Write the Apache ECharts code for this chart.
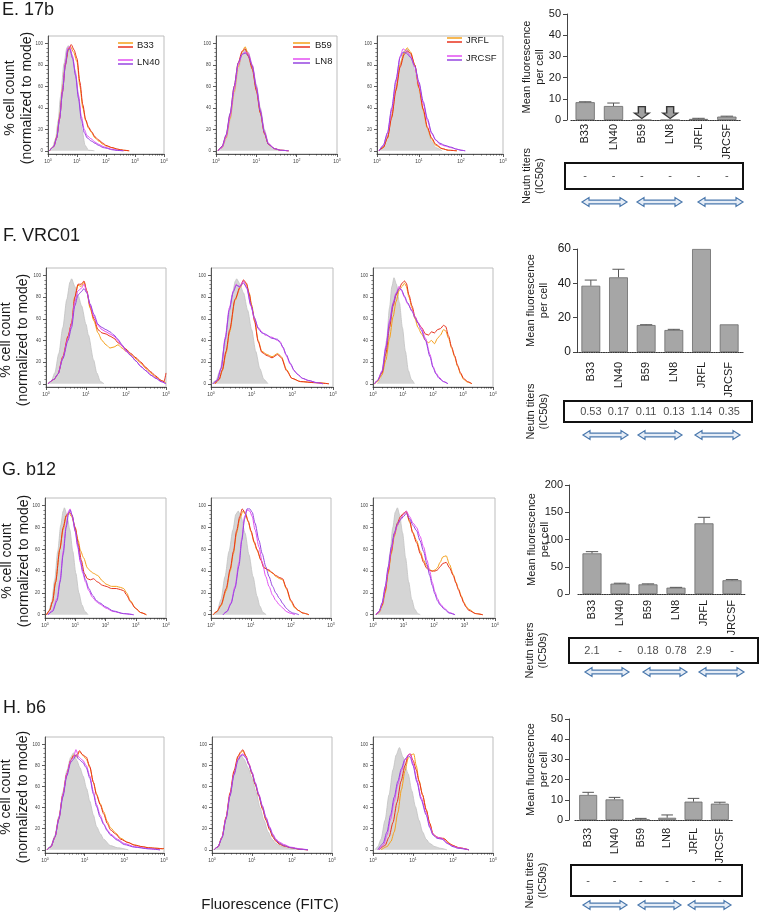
<!DOCTYPE html>
<html><head><meta charset="utf-8">
<script src="https://cdn.jsdelivr.net/npm/echarts@6/dist/echarts.min.js"></script>
<style>html,body{margin:0;padding:0;background:#fff}#c{width:760px;height:914px}</style>
</head><body><div id="c"></div>
<script>
// ---------------- DATA ----------------
const cats = ['B33','LN40','B59','LN8','JRFL','JRCSF'];
const panelTitles = ['E. 17b','F. VRC01','G. b12','H. b6'];
const legendNames = [['B33','LN40'],['B59','LN8'],['JRFL','JRCSF']];
const histYTicks = [0,20,40,60,80,100];

// Mean fluorescence per cell (bar) and upper error
const mfi_17b = [8.4, 6.6, 0, 0, 0.5, 1.6];
const err_17b = [0.2, 1.4, 0, 0, 0.3, 0.2];
const arrowCats_17b = ['B59','LN8'];
const arrowVal_17b = 3.5;
const mfi_VRC01 = [38.6, 43.5, 15.7, 12.8, 60, 16.1];
const err_VRC01 = [3.3, 4.7, 0.2, 0.4, 0, 0];
const mfi_b12 = [74.6, 19, 17.7, 11.6, 129.7, 25.2];
const err_b12 = [3.1, 0.8, 0.9, 0.6, 11, 1.3];
const mfi_b6 = [12.4, 10.2, 0.2, 1.1, 9.1, 8.1];
const err_b6 = [1.3, 1.0, 0.6, 1.4, 1.6, 0.7];
const barTicks_17b = [0,10,20,30,40,50];
const barTicks_VRC01 = [0,20,40,60];
const barTicks_b12 = [0,50,100,150,200];
const barTicks_b6 = [0,10,20,30,40,50];

// Neutralization titers (IC50s)
const neut_17b = ['-','-','-','-','-','-'];
const neut_VRC01 = ['0.53','0.17','0.11','0.13','1.14','0.35'];
const neut_b12 = ['2.1','-','0.18','0.78','2.9','-'];
const neut_b6 = ['-','-','-','-','-','-'];

// Histograms: [log10(fluorescence), % of max]
const E1_ctrl = [[0.05,0],[0.15,3],[0.26,11],[0.35,28],[0.43,50],[0.55,81],[0.65,96],[0.7,98],[0.8,90],[0.94,75],[1.06,50],[1.17,20],[1.28,5],[1.4,0.5],[1.6,0]];
const E1_B33a = [[0.05,0],[0.2,4],[0.3,13],[0.4,32],[0.5,58],[0.6,82],[0.7,95],[0.78,97],[0.88,92],[1.0,83],[1.1,60],[1.2,40],[1.3,28],[1.4,21],[1.5,17],[1.62,12],[1.75,9],[1.9,6],[2.0,4.5],[2.2,3],[2.4,1.5],[2.6,0.5],[2.8,0]];
const E1_B33b = [[0.05,0],[0.2,4],[0.3,12],[0.4,30],[0.5,55],[0.6,80],[0.7,94],[0.8,99],[0.9,94],[1.0,86],[1.1,64],[1.2,43],[1.3,29],[1.4,22],[1.5,18],[1.62,13],[1.75,10],[1.9,7],[2.0,5],[2.2,3],[2.4,1.5],[2.6,0.5],[2.8,0]];
const E1_LN40a = [[0.05,0],[0.2,4],[0.3,12],[0.4,30],[0.5,56],[0.6,82],[0.68,96],[0.75,97],[0.85,88],[0.95,72],[1.05,52],[1.15,32],[1.25,20],[1.35,14],[1.5,11],[1.62,8],[1.75,6],[1.9,4],[2.0,3],[2.2,1.5],[2.4,0.5],[2.6,0]];
const E1_LN40b = [[0.05,0],[0.2,4],[0.3,12],[0.4,30],[0.5,55],[0.6,80],[0.68,94],[0.75,95],[0.85,86],[0.95,70],[1.05,49],[1.15,29],[1.25,17],[1.35,12],[1.5,9],[1.62,7],[1.75,5],[1.9,3],[2.0,2.5],[2.2,1],[2.4,0.3],[2.6,0]];

const E2_ctrl = [[0.05,0],[0.15,3],[0.25,10],[0.35,28],[0.45,52],[0.55,75],[0.65,90],[0.72,95],[0.8,92],[0.9,80],[1.0,62],[1.1,40],[1.2,20],[1.3,7],[1.4,2],[1.55,0]];
const E2_B59a = [[0.05,0],[0.15,3],[0.25,12],[0.35,30],[0.45,55],[0.55,78],[0.65,92],[0.72,97],[0.8,90],[0.9,78],[1.0,58],[1.1,36],[1.2,17],[1.3,6],[1.45,2],[1.6,0.5],[1.8,0]];
const E2_B59b = [[0.05,0],[0.15,4],[0.25,14],[0.35,34],[0.45,60],[0.55,82],[0.65,93],[0.72,95],[0.8,88],[0.9,76],[1.0,56],[1.1,35],[1.2,16],[1.3,6],[1.45,2],[1.6,0.5],[1.8,0]];
const E2_LN8a = [[0.05,0],[0.15,3],[0.25,13],[0.35,32],[0.45,57],[0.55,80],[0.65,90],[0.72,92],[0.8,91],[0.9,80],[1.0,60],[1.1,38],[1.2,18],[1.3,7],[1.45,2],[1.6,0.5],[1.8,0]];
const E2_LN8b = [[0.05,0],[0.15,4],[0.25,15],[0.35,35],[0.45,60],[0.55,82],[0.65,90],[0.72,91],[0.8,89],[0.9,79],[1.0,59],[1.1,37],[1.2,17],[1.3,6],[1.45,2],[1.6,0.5],[1.8,0]];

const E3_ctrl = [[0.05,0],[0.15,4],[0.25,14],[0.35,35],[0.45,60],[0.55,82],[0.65,93],[0.72,95],[0.8,90],[0.9,75],[1.0,55],[1.1,36],[1.2,20],[1.3,9],[1.4,3],[1.55,0]];
const E3_JRFLa = [[0.05,0],[0.15,3],[0.25,12],[0.35,32],[0.45,58],[0.55,80],[0.65,92],[0.72,96],[0.8,92],[0.9,80],[1.0,58],[1.1,38],[1.2,21],[1.3,11],[1.4,5],[1.55,2],[1.7,0.5],[1.9,0]];
const E3_JRFLb = [[0.05,0],[0.15,3],[0.25,12],[0.35,31],[0.45,56],[0.55,78],[0.65,90],[0.72,93],[0.8,91],[0.9,80],[1.0,59],[1.1,39],[1.2,22],[1.3,12],[1.4,6],[1.55,2],[1.7,0.5],[1.9,0]];
const E3_JRCSFa = [[0.05,0],[0.15,5],[0.25,16],[0.35,38],[0.45,64],[0.55,88],[0.62,95],[0.7,93],[0.8,88],[0.9,78],[1.0,62],[1.1,44],[1.2,28],[1.3,16],[1.4,10],[1.5,6],[1.62,4.5],[1.75,3],[1.9,1.5],[2.0,0.5],[2.1,0]];
const E3_JRCSFb = [[0.05,0],[0.15,5],[0.25,17],[0.35,40],[0.45,66],[0.55,87],[0.62,92],[0.7,91],[0.8,87],[0.9,79],[1.0,64],[1.1,46],[1.2,30],[1.3,17],[1.4,10],[1.5,7],[1.62,5],[1.75,3.5],[1.9,1.5],[2.0,0.5],[2.1,0]];

const F1_ctrl = [[0.05,0],[0.13,2],[0.22,10],[0.32,28],[0.42,52],[0.52,78],[0.6,94],[0.64,97],[0.72,90],[0.8,82],[0.89,72],[1.0,55],[1.06,45],[1.19,22],[1.27,10],[1.36,2],[1.45,0]];
const F1_B33a = [[0.05,0],[0.2,4],[0.3,9],[0.42,24],[0.55,43],[0.64,56],[0.72,80],[0.8,91],[0.88,90],[0.95,94],[1.02,85],[1.1,70],[1.2,58],[1.3,47],[1.4,40],[1.5,36],[1.6,33],[1.7,34],[1.8,36],[1.9,33],[2.0,30],[2.12,27],[2.25,23],[2.37,19],[2.5,14],[2.62,10],[2.75,6],[2.88,3],[3.0,1]];
const F1_B33b = [[0.05,0],[0.2,4],[0.3,9],[0.42,25],[0.55,44],[0.64,56],[0.72,80],[0.8,92],[0.88,92],[0.95,95],[1.02,86],[1.1,72],[1.2,60],[1.3,50],[1.4,47],[1.5,46],[1.6,44],[1.7,42],[1.8,38],[1.9,35],[2.0,32],[2.12,28],[2.25,24],[2.37,20],[2.5,15],[2.62,11],[2.75,7],[2.88,3],[2.95,2],[3.0,10]];
const F1_LN40a = [[0.05,0],[0.2,4],[0.3,9],[0.42,24],[0.55,42],[0.64,55],[0.72,76],[0.8,86],[0.88,88],[0.95,92],[1.02,85],[1.1,73],[1.2,62],[1.3,54],[1.4,50],[1.5,48],[1.6,46],[1.7,44],[1.8,40],[1.9,35],[2.0,30],[2.12,26],[2.25,21],[2.37,16],[2.5,12],[2.62,8],[2.75,5],[2.88,2],[3.0,0]];
const F1_LN40b = [[0.05,0],[0.2,4],[0.3,9],[0.42,23],[0.55,40],[0.64,52],[0.72,72],[0.8,82],[0.88,85],[0.95,88],[1.02,84],[1.1,74],[1.2,64],[1.3,55],[1.4,52],[1.5,50],[1.6,48],[1.7,45],[1.8,41],[1.9,36],[2.0,31],[2.12,26],[2.25,21],[2.37,16],[2.5,12],[2.62,8],[2.75,5],[2.88,2],[3.0,0]];

const F2_ctrl = [[0.02,0],[0.12,3],[0.22,12],[0.32,32],[0.42,58],[0.52,82],[0.6,95],[0.63,97],[0.7,93],[0.8,84],[0.9,68],[1.0,50],[1.1,30],[1.2,14],[1.3,4],[1.4,0]];
const F2_B59a = [[0.1,0],[0.2,4],[0.28,12],[0.37,28],[0.46,48],[0.59,77],[0.72,89],[0.8,95],[0.87,92],[0.94,84],[1.0,73],[1.07,60],[1.16,40],[1.25,30],[1.38,27],[1.5,25],[1.64,28],[1.73,25],[1.86,13],[1.99,5],[2.2,2],[2.56,1],[2.9,0]];
const F2_B59b = [[0.1,0],[0.2,4],[0.28,13],[0.37,30],[0.46,50],[0.59,78],[0.72,90],[0.8,96],[0.87,93],[0.94,83],[1.0,71],[1.07,58],[1.16,39],[1.25,29],[1.38,26],[1.5,24],[1.64,27],[1.73,24],[1.86,12],[1.99,5],[2.2,2],[2.56,1],[2.9,0]];
const F2_LN8a = [[0.05,0],[0.15,3],[0.25,15],[0.35,43],[0.45,70],[0.55,86],[0.62,92],[0.7,89],[0.8,95],[0.88,88],[0.98,72],[1.07,60],[1.16,52],[1.25,48],[1.33,45],[1.5,43],[1.64,40],[1.7,39],[1.77,33],[1.85,26],[1.95,18],[2.05,12],[2.12,9],[2.25,5],[2.4,3],[2.6,1],[2.75,0]];
const F2_LN8b = [[0.05,0],[0.15,3],[0.25,14],[0.35,41],[0.45,68],[0.55,85],[0.62,91],[0.7,90],[0.8,93],[0.88,89],[0.98,73],[1.07,61],[1.16,51],[1.25,47],[1.33,46],[1.5,42],[1.64,41],[1.7,38],[1.77,34],[1.85,27],[1.95,19],[2.05,12],[2.12,9],[2.25,5],[2.4,3],[2.6,1],[2.75,0]];

const F3_ctrl = [[0.15,0],[0.25,4],[0.35,15],[0.45,40],[0.55,70],[0.63,90],[0.7,98],[0.78,92],[0.88,75],[0.98,52],[1.08,30],[1.18,12],[1.28,4],[1.38,0]];
const F3_JRFLa = [[0.05,0],[0.15,2],[0.3,8],[0.43,22],[0.55,42],[0.67,62],[0.77,76],[0.87,86],[0.97,90],[1.05,93],[1.11,90],[1.2,80],[1.3,70],[1.4,60],[1.5,52],[1.62,46],[1.75,40],[1.85,38],[1.95,40],[2.05,37],[2.15,42],[2.25,45],[2.35,50],[2.42,49],[2.52,42],[2.62,33],[2.72,25],[2.82,16],[2.92,9],[3.02,4],[3.15,1.5],[3.3,0]];
const F3_JRFLb = [[0.05,0],[0.15,3],[0.3,10],[0.43,28],[0.55,52],[0.67,72],[0.77,82],[0.87,88],[0.97,93],[1.05,95],[1.11,93],[1.2,82],[1.3,72],[1.4,62],[1.5,56],[1.62,52],[1.75,46],[1.85,45],[1.95,48],[2.05,47],[2.15,50],[2.25,51],[2.35,54],[2.42,53],[2.52,44],[2.62,34],[2.72,26],[2.82,17],[2.92,10],[3.02,5],[3.15,2],[3.3,0]];
const F3_JRCSFa = [[0.05,0],[0.15,3],[0.3,12],[0.43,35],[0.55,58],[0.67,75],[0.77,84],[0.87,90],[0.95,86],[1.05,80],[1.15,74],[1.3,68],[1.4,62],[1.5,57],[1.6,52],[1.75,42],[1.9,27],[2.0,16],[2.1,10],[2.2,6],[2.35,2],[2.5,0]];
const F3_JRCSFb = [[0.05,0],[0.15,3],[0.3,11],[0.43,33],[0.55,56],[0.67,74],[0.77,83],[0.87,88],[0.95,87],[1.05,81],[1.15,75],[1.3,67],[1.4,61],[1.5,56],[1.6,50],[1.75,40],[1.9,25],[2.0,15],[2.1,9],[2.2,5],[2.35,2],[2.5,0]];

const G1_ctrl = [[0.05,0],[0.12,3],[0.22,12],[0.32,32],[0.42,58],[0.52,82],[0.6,95],[0.64,98],[0.72,92],[0.82,78],[0.92,58],[1.02,38],[1.12,20],[1.22,9],[1.32,3],[1.42,0]];
const G1_B33a = [[0.05,0],[0.15,4],[0.25,12],[0.35,30],[0.49,60],[0.6,78],[0.7,90],[0.8,93],[0.88,90],[1.0,79],[1.1,68],[1.17,59],[1.28,52],[1.4,43],[1.5,40],[1.6,38],[1.74,36],[1.9,31],[2.02,28],[2.2,26],[2.36,26],[2.5,25],[2.6,24],[2.7,20],[2.82,13],[2.99,6],[3.16,2],[3.35,0]];
const G1_B33b = [[0.05,0],[0.15,4],[0.25,12],[0.35,30],[0.49,60],[0.6,80],[0.7,91],[0.8,94],[0.88,92],[1.0,80],[1.1,65],[1.2,50],[1.3,38],[1.4,33],[1.5,32],[1.6,33],[1.74,30],[1.9,27],[2.02,26],[2.2,24],[2.36,24],[2.5,23],[2.6,22],[2.7,18],[2.82,12],[2.99,6],[3.16,2],[3.35,0]];
const G1_LN40a = [[0.1,0],[0.25,4],[0.4,15],[0.5,32],[0.6,58],[0.7,82],[0.78,95],[0.83,97],[0.9,90],[1.0,76],[1.08,62],[1.17,48],[1.25,38],[1.34,30],[1.45,22],[1.57,16],[1.7,12],[1.8,10],[2.02,6],[2.25,3],[2.6,1],[2.93,0]];
const G1_LN40b = [[0.1,0],[0.25,3],[0.4,13],[0.5,30],[0.6,55],[0.7,80],[0.78,93],[0.83,96],[0.9,91],[1.0,77],[1.08,64],[1.17,50],[1.25,40],[1.34,32],[1.45,24],[1.57,18],[1.7,13],[1.8,11],[2.02,7],[2.25,3.5],[2.6,1],[2.93,0]];

const G2_ctrl = [[0.08,0],[0.15,3],[0.25,14],[0.35,35],[0.45,58],[0.55,78],[0.62,92],[0.68,95],[0.75,90],[0.85,75],[0.95,55],[1.05,35],[1.15,17],[1.22,8],[1.3,2],[1.38,0]];
const G2_B59a = [[0.05,0],[0.15,3],[0.25,8],[0.38,22],[0.48,40],[0.56,56],[0.64,75],[0.72,88],[0.8,95],[0.86,92],[0.93,85],[1.0,76],[1.08,66],[1.15,59],[1.25,50],[1.32,44],[1.45,40],[1.55,38],[1.62,35],[1.72,33],[1.79,32],[1.88,24],[2.0,12],[2.1,6],[2.18,4],[2.3,1.5],[2.45,0]];
const G2_B59b = [[0.05,0],[0.15,3],[0.25,9],[0.38,24],[0.48,42],[0.56,58],[0.64,77],[0.72,90],[0.78,97],[0.86,93],[0.93,86],[1.0,77],[1.08,67],[1.15,60],[1.25,50],[1.32,43],[1.45,41],[1.55,38],[1.62,36],[1.72,34],[1.79,33],[1.88,25],[2.0,13],[2.1,7],[2.18,4],[2.3,1.5],[2.45,0]];
const G2_LN8a = [[0.3,0],[0.4,3],[0.5,11],[0.6,26],[0.7,48],[0.77,70],[0.84,90],[0.9,96],[0.97,95],[1.03,90],[1.1,78],[1.2,62],[1.28,48],[1.37,35],[1.45,26],[1.54,18],[1.62,13],[1.71,9],[1.8,6],[1.88,3],[1.97,1.5],[2.1,0]];
const G2_LN8b = [[0.3,0],[0.4,3],[0.5,10],[0.6,24],[0.7,45],[0.77,68],[0.84,88],[0.9,97],[0.97,97],[1.03,94],[1.1,84],[1.2,68],[1.28,56],[1.37,44],[1.45,35],[1.54,26],[1.62,20],[1.71,15],[1.8,10],[1.88,6],[1.97,3],[2.05,1.5],[2.2,0]];

const G3_ctrl = [[0.15,0],[0.25,3],[0.35,12],[0.45,30],[0.55,55],[0.65,80],[0.73,94],[0.8,98],[0.87,92],[0.97,75],[1.07,52],[1.17,30],[1.27,14],[1.37,5],[1.47,1],[1.55,0]];
const G3_JRFLa = [[0.1,0],[0.2,2],[0.3,8],[0.4,20],[0.5,38],[0.6,56],[0.7,72],[0.8,82],[0.9,88],[1.0,92],[1.09,94],[1.2,85],[1.3,76],[1.43,68],[1.55,58],[1.66,50],[1.75,45],[1.83,42],[1.94,40],[2.03,41],[2.11,43],[2.2,48],[2.29,53],[2.4,54],[2.51,46],[2.63,37],[2.72,30],[2.8,24],[2.9,17],[2.97,12],[3.05,8],[3.14,5],[3.37,1],[3.6,0]];
const G3_JRFLb = [[0.1,0],[0.2,3],[0.3,9],[0.4,22],[0.5,40],[0.6,58],[0.7,74],[0.8,84],[0.9,90],[1.0,93],[1.09,95],[1.2,86],[1.3,75],[1.43,66],[1.55,56],[1.66,48],[1.75,43],[1.83,41],[1.94,40],[2.03,40],[2.11,41],[2.2,44],[2.29,47],[2.4,48],[2.51,43],[2.63,36],[2.72,29],[2.8,23],[2.9,16],[2.97,11],[3.05,7],[3.14,4],[3.37,1],[3.6,0]];
const G3_JRCSFa = [[0.1,0],[0.2,3],[0.3,10],[0.4,24],[0.5,42],[0.6,60],[0.7,74],[0.8,82],[0.9,88],[1.0,92],[1.09,95],[1.2,90],[1.31,84],[1.43,80],[1.54,72],[1.66,62],[1.77,50],[1.86,40],[1.94,30],[2.03,21],[2.11,15],[2.2,10],[2.34,6],[2.5,2],[2.69,0]];
const G3_JRCSFb = [[0.1,0],[0.2,3],[0.3,11],[0.4,26],[0.5,44],[0.6,62],[0.7,75],[0.8,83],[0.9,87],[1.0,90],[1.09,93],[1.2,88],[1.31,82],[1.43,77],[1.54,68],[1.66,58],[1.77,46],[1.86,36],[1.94,27],[2.03,19],[2.11,13],[2.2,9],[2.34,5],[2.5,1.5],[2.69,0]];

const H1_ctrl = [[0.05,0],[0.15,4],[0.25,14],[0.35,32],[0.45,55],[0.55,75],[0.65,88],[0.72,92],[0.8,85],[0.88,78],[0.96,70],[1.05,58],[1.13,46],[1.22,33],[1.3,22],[1.4,15],[1.48,10],[1.65,4],[1.83,2],[2.1,0]];
const H1_B33a = [[0.05,0],[0.15,3],[0.25,12],[0.35,30],[0.45,52],[0.55,72],[0.65,85],[0.72,90],[0.8,88],[0.87,93],[0.95,90],[1.04,86],[1.13,78],[1.22,64],[1.3,53],[1.39,44],[1.48,36],[1.57,27],[1.65,21],[1.78,16],[1.91,11],[2.09,7],[2.26,4.5],[2.45,3],[2.61,2],[2.8,1.5],[3.0,1]];
const H1_B33b = [[0.05,0],[0.15,3],[0.25,12],[0.35,30],[0.45,52],[0.55,72],[0.65,85],[0.72,89],[0.8,90],[0.87,94],[0.95,90],[1.04,88],[1.13,79],[1.22,64],[1.3,52],[1.39,43],[1.48,34],[1.57,25],[1.65,19],[1.78,15],[1.91,10],[2.09,7],[2.26,4.5],[2.45,3],[2.61,2],[2.8,1.5],[2.96,1],[3.0,1.5]];
const H1_LN40a = [[0.05,0],[0.15,3],[0.25,12],[0.35,30],[0.45,52],[0.55,72],[0.65,85],[0.72,88],[0.78,95],[0.85,88],[0.95,85],[1.04,80],[1.13,70],[1.22,55],[1.3,43],[1.39,33],[1.48,25],[1.57,19],[1.65,15],[1.83,10],[2.0,6],[2.26,3],[2.61,1],[2.9,0]];
const H1_LN40b = [[0.05,0],[0.15,3],[0.25,12],[0.35,29],[0.45,50],[0.55,70],[0.65,83],[0.72,86],[0.78,90],[0.85,86],[0.95,83],[1.04,78],[1.13,68],[1.22,53],[1.3,41],[1.39,31],[1.48,24],[1.57,18],[1.65,14],[1.83,9],[2.0,5],[2.26,2.5],[2.61,1],[2.9,0]];

const H2_ctrl = [[0.05,0],[0.15,3],[0.25,12],[0.35,30],[0.45,52],[0.55,72],[0.65,86],[0.72,90],[0.8,86],[0.9,78],[1.0,68],[1.1,55],[1.2,40],[1.3,28],[1.4,17],[1.5,10],[1.6,6],[1.75,3],[1.95,1],[2.1,0]];
const H2_B59a = [[0.05,0],[0.15,3],[0.25,12],[0.35,30],[0.45,52],[0.55,73],[0.65,88],[0.72,92],[0.77,94],[0.85,88],[0.92,82],[1.0,73],[1.08,63],[1.17,52],[1.26,40],[1.35,29],[1.44,20],[1.52,13],[1.6,9],[1.7,6],[1.8,4],[1.97,2],[2.2,0.5],[2.4,0]];
const H2_B59b = [[0.05,0],[0.15,3],[0.25,12],[0.35,31],[0.45,54],[0.55,75],[0.65,89],[0.72,93],[0.77,95],[0.85,89],[0.92,81],[1.0,72],[1.08,62],[1.17,51],[1.26,39],[1.35,28],[1.44,19],[1.52,12],[1.6,8],[1.7,5],[1.8,3.5],[1.97,2],[2.2,0.5],[2.4,0]];
const H2_LN8a = [[0.05,0],[0.15,3],[0.25,12],[0.35,30],[0.45,52],[0.55,72],[0.65,86],[0.72,90],[0.77,91],[0.85,88],[0.92,82],[1.0,74],[1.08,64],[1.17,53],[1.26,42],[1.35,31],[1.44,22],[1.52,15],[1.6,10],[1.7,7],[1.8,5],[1.97,2.5],[2.2,1],[2.4,0]];
const H2_LN8b = [[0.05,0],[0.15,3],[0.25,11],[0.35,29],[0.45,51],[0.55,71],[0.65,85],[0.72,89],[0.77,90],[0.85,87],[0.92,81],[1.0,73],[1.08,63],[1.17,52],[1.26,41],[1.35,30],[1.44,21],[1.52,14],[1.6,9],[1.7,6],[1.8,4],[1.97,2],[2.2,0.5],[2.4,0]];

const H3_ctrl = [[0.05,0],[0.12,3],[0.2,10],[0.3,28],[0.4,52],[0.5,76],[0.58,90],[0.66,97],[0.75,88],[0.88,72],[0.97,56],[1.06,41],[1.15,28],[1.24,17],[1.33,10],[1.42,6],[1.55,3],[1.68,1.5],[1.85,0]];
const H3_JRFLa = [[0.2,0],[0.35,3],[0.45,8],[0.53,17],[0.62,35],[0.71,57],[0.8,75],[0.88,87],[0.95,90],[1.02,91],[1.08,80],[1.15,66],[1.24,52],[1.33,38],[1.42,25],[1.5,15],[1.6,12],[1.68,11],[1.77,11],[1.86,8],[1.95,5],[2.1,2.5],[2.21,1.5],[2.4,0]];
const H3_JRFLb = [[0.15,0],[0.3,4],[0.4,12],[0.5,26],[0.6,45],[0.7,65],[0.8,80],[0.88,90],[0.93,91],[1.0,85],[1.08,76],[1.15,65],[1.24,52],[1.33,38],[1.42,25],[1.5,15],[1.6,12],[1.7,11],[1.8,10],[1.9,6],[2.0,4],[2.15,2],[2.4,0]];
const H3_JRCSFa = [[0.15,0],[0.27,5],[0.35,14],[0.44,29],[0.53,46],[0.62,62],[0.71,75],[0.8,85],[0.88,90],[0.93,91],[1.0,82],[1.1,66],[1.2,50],[1.33,35],[1.42,22],[1.5,15],[1.6,12],[1.73,11],[1.86,6],[2.0,3.5],[2.12,2],[2.4,0]];
const H3_JRCSFb = [[0.12,0],[0.25,6],[0.35,17],[0.44,33],[0.53,50],[0.62,65],[0.71,77],[0.8,86],[0.88,89],[0.93,88],[1.0,80],[1.1,64],[1.2,48],[1.33,33],[1.42,21],[1.5,14],[1.6,11],[1.73,10],[1.86,6],[2.0,3],[2.12,1.5],[2.4,0]];

// ---------------- LAYOUT / STYLE ----------------
const FONT = '"Liberation Sans", Arial, Helvetica, sans-serif';
const TXT = '#1a1a1a';
const CURVE_COLORS = ['#f5a01a', '#e8321e', '#e34ff2', '#9646e0'];
const CTRL_FILL = '#d5d5d5', CTRL_LINE = '#c2c2c2';

const rows = [
  { title: [2, 10], cellLbl: [18.5, 98], mfLbl: [533.5, 67], ntLbl: [533.5, 176],
    hist: { t: 36, b: 154, panels: [[48,164,4],[216,337,3],[377,503,3]] },
    curves: [[E1_ctrl,E1_B33a,E1_B33b,E1_LN40a,E1_LN40b],[E2_ctrl,E2_B59a,E2_B59b,E2_LN8a,E2_LN8b],[E3_ctrl,E3_JRFLa,E3_JRFLb,E3_JRCSFa,E3_JRCSFb]],
    bar: { l: 571, r: 741, t: 14, b: 120, axisX: 567, max: 50, font: 11, lblMargin: 4 },
    mfi: mfi_17b, err: err_17b, ticks: barTicks_17b, neut: neut_17b,
    box: [565, 743, 163, 189], arrowY: 202, arrows: [[582,627],[637,682],[698,743]] },
  { title: [3, 236], cellLbl: [14.5, 340], mfLbl: [537.5, 300.5], ntLbl: [537.5, 411.5],
    hist: { t: 268, b: 387, panels: [[46,166,3],[211,333,3],[373,493,4]] },
    curves: [[F1_ctrl,F1_B33a,F1_B33b,F1_LN40a,F1_LN40b],[F2_ctrl,F2_B59a,F2_B59b,F2_LN8a,F2_LN8b],[F3_ctrl,F3_JRFLa,F3_JRFLb,F3_JRCSFa,F3_JRCSFb]],
    bar: { l: 577, r: 743, t: 249, b: 352, axisX: 577, max: 60, font: 12, lblMargin: 10 },
    mfi: mfi_VRC01, err: err_VRC01, ticks: barTicks_VRC01, neut: neut_VRC01,
    box: [564, 752, 401, 422], arrowY: 435, arrows: [[583,628],[638,682],[695,740]] },
  { title: [2, 470], cellLbl: [15.5, 561], mfLbl: [538, 539.5], ntLbl: [536.5, 650.5],
    hist: { t: 498, b: 618, panels: [[45,166,4],[211,331,3],[373,495,4]] },
    curves: [[G1_ctrl,G1_B33a,G1_B33b,G1_LN40a,G1_LN40b],[G2_ctrl,G2_B59a,G2_B59b,G2_LN8a,G2_LN8b],[G3_ctrl,G3_JRFLa,G3_JRFLb,G3_JRCSFa,G3_JRCSFb]],
    bar: { l: 578, r: 746, t: 485, b: 594, axisX: 569, max: 200, font: 11, lblMargin: 6 },
    mfi: mfi_b12, err: err_b12, ticks: barTicks_b12, neut: neut_b12,
    box: [569, 758, 638, 663], arrowY: 672, arrows: [[585,629],[643,687],[699,744]] },
  { title: [3, 708], cellLbl: [14.5, 797], mfLbl: [537.5, 769.5], ntLbl: [536.5, 880.5],
    hist: { t: 737, b: 853, panels: [[45,164,3],[212,332,3],[373,493,3]] },
    curves: [[H1_ctrl,H1_B33a,H1_B33b,H1_LN40a,H1_LN40b],[H2_ctrl,H2_B59a,H2_B59b,H2_LN8a,H2_LN8b],[H3_ctrl,H3_JRFLa,H3_JRFLb,H3_JRCSFa,H3_JRCSFb]],
    bar: { l: 575, r: 733, t: 719, b: 820, axisX: 569, max: 50, font: 11, lblMargin: 8 },
    mfi: mfi_b6, err: err_b6, ticks: barTicks_b6, neut: neut_b6,
    box: [571, 742, 865, 896], arrowY: 905, arrows: [[583,627],[638,681],[688,731]] }
];
// legend placement for row E panels: [lineX1, lineX2, textX, y1, y2]
const legendPos = [[118,133,137,45,62],[293,310,315,45,61],[447,462,466,40,58]];

// ---------------- BUILD ----------------
const grid = [], xAxis = [], yAxis = [], series = [], graphic = [];

function gText(text, x, y, size, o) {
  o = o || {};
  graphic.push({ type: 'text', x: x, y: y, rotation: o.rot || 0, silent: true, z: 100,
    style: { text: text, fontSize: size, fontFamily: FONT, fill: o.color || TXT,
      align: o.align || 'center', verticalAlign: 'middle', textAlign: o.align || 'center', textVerticalAlign: 'middle',
      lineHeight: o.lh || Math.round(size * 1.2) } });
}

function addHist(t, b, l, r, xmax, curves) {
  const gi = grid.length;
  grid.push({ left: l, top: t, width: r - l, height: b - t, show: true, borderColor: '#bdbdbd', borderWidth: 1, backgroundColor: '#fff' });
  const xi = xAxis.length, yi = yAxis.length;
  const xMinor = [];
  for (let d = 0; d < xmax; d++) for (let k = 2; k <= 9; k++) xMinor.push(d + Math.log10(k));
  const yMinor = [];
  for (let v = 0; v < 100; v += 4) if (v % 20 !== 0) yMinor.push(v);
  xAxis.push({ gridIndex: gi, type: 'value', min: 0, max: xmax, interval: 1, position: 'bottom',
    axisLine: { show: true, onZero: false, lineStyle: { color: '#333', width: 0.8 } },
    axisTick: { show: true, length: 3, lineStyle: { color: '#333', width: 0.8 } },
    axisLabel: { show: true, margin: 4, showMinLabel: true, showMaxLabel: true,
      formatter: function (v) { return '{b|10}{s|' + v + '}'; },
      rich: { b: { fontSize: 5, color: '#444', fontFamily: FONT }, s: { fontSize: 3.5, color: '#444', fontFamily: FONT, verticalAlign: 'top', padding: [0, 0, 3, 0] } } },
    splitLine: { show: false } });
  xAxis.push({ gridIndex: gi, type: 'value', min: 0, max: xmax, position: 'bottom',
    axisLine: { show: false, onZero: false }, axisTick: { show: true, length: 1.6, customValues: xMinor, lineStyle: { color: '#333', width: 0.6 } },
    axisLabel: { show: false }, splitLine: { show: false } });
  yAxis.push({ gridIndex: gi, type: 'value', min: -3, max: 107, position: 'left',
    axisLine: { show: true, onZero: false, lineStyle: { color: '#333', width: 0.8 } },
    axisTick: { show: true, length: 3, customValues: histYTicks, lineStyle: { color: '#333', width: 0.8 } },
    axisLabel: { customValues: histYTicks, fontSize: 4.5, margin: 5, color: '#444', fontFamily: FONT },
    splitLine: { show: false } });
  yAxis.push({ gridIndex: gi, type: 'value', min: -3, max: 107, position: 'left',
    axisLine: { show: false, onZero: false }, axisTick: { show: true, length: 1.6, customValues: yMinor, lineStyle: { color: '#333', width: 0.6 } },
    axisLabel: { show: false }, splitLine: { show: false } });
  curves.forEach(function (d, k) {
    const s = { type: 'line', xAxisIndex: xi, yAxisIndex: yi, data: d, symbol: 'none', smooth: 0.25, smoothMonotone: 'x',
      clip: true, silent: true, z: 2 + k,
      lineStyle: { color: k === 0 ? CTRL_LINE : CURVE_COLORS[k - 1], width: k === 0 ? 0.8 : 1 } };
    if (k === 0) s.areaStyle = { color: CTRL_FILL, opacity: 1 };
    series.push(s);
  });
}

function addBar(row, withArrows) {
  const B = row.bar;
  const gi = grid.length;
  grid.push({ left: B.l, top: B.t, width: B.r - B.l, height: B.b - B.t, show: false });
  const xi = xAxis.length, yi = yAxis.length;
  xAxis.push({ gridIndex: gi, type: 'category', data: cats, boundaryGap: true,
    axisLine: { show: true, onZero: false, lineStyle: { color: '#333', width: 1.2, type: 'dotted' } },
    axisTick: { show: false },
    axisLabel: { rotate: 90, fontSize: 11, margin: B.lblMargin, color: TXT, fontFamily: FONT, interval: 0 } });
  const step = row.ticks[1] - row.ticks[0];
  yAxis.push({ gridIndex: gi, type: 'value', min: 0, max: B.max, interval: step, offset: B.l - B.axisX,
    axisLine: { show: true, onZero: false, lineStyle: { color: '#444', width: 1 } },
    axisTick: { show: true, inside: false, length: 4, lineStyle: { color: '#444' } },
    axisLabel: { fontSize: B.font, margin: 6, color: TXT, fontFamily: FONT },
    splitLine: { show: false } });
  series.push({ type: 'bar', xAxisIndex: xi, yAxisIndex: yi, data: row.mfi, barWidth: '68%', silent: true,
    itemStyle: { color: '#a6a6a6', borderColor: '#6a6a6a', borderWidth: 0.8 } });
  series.push({ type: 'custom', xAxisIndex: xi, yAxisIndex: yi, silent: true, z: 5,
    data: row.mfi.map(function (v, i) { return [i, v, row.err[i]]; }),
    encode: { x: 0, y: 1 },
    renderItem: function (params, api) {
      const i = api.value(0), v = api.value(1), e = api.value(2);
      if (!(e > 0)) return null;
      const p0 = api.coord([i, v]), p1 = api.coord([i, v + e]);
      const w = api.size([1, 0])[0] * 0.22;
      return { type: 'group', children: [
        { type: 'line', shape: { x1: p0[0], y1: p0[1], x2: p1[0], y2: p1[1] }, style: { stroke: '#555', lineWidth: 1 } },
        { type: 'line', shape: { x1: p1[0] - w, y1: p1[1], x2: p1[0] + w, y2: p1[1] }, style: { stroke: '#555', lineWidth: 1 } }
      ] };
    } });
  if (withArrows) {
    series.push({ type: 'scatter', xAxisIndex: xi, yAxisIndex: yi, silent: true, z: 6,
      data: arrowCats_17b.map(function (c) { return [c, arrowVal_17b]; }),
      symbol: 'path://M4,0 L11,0 L11,7 L15,7 L7.5,13 L0,7 L4,7 Z', symbolSize: [15, 12],
      itemStyle: { color: '#8a8a8a', borderColor: '#111', borderWidth: 1.3 } });
  }
}

function addTable(row) {
  const B = row.bar, box = row.box;
  const gi = grid.length;
  grid.push({ left: box[0], top: box[2], width: box[1] - box[0], height: box[3] - box[2], show: true,
    borderColor: '#111', borderWidth: 2, backgroundColor: '#fff' });
  const cw = (B.r - B.l) / cats.length;
  const xi = xAxis.length, yi = yAxis.length;
  xAxis.push({ gridIndex: gi, type: 'value', min: (box[0] - B.l) / cw - 0.5, max: (box[1] - B.l) / cw - 0.5, show: false });
  yAxis.push({ gridIndex: gi, type: 'value', min: 0, max: 1, show: false });
  series.push({ type: 'scatter', xAxisIndex: xi, yAxisIndex: yi, silent: true, symbolSize: 1,
    itemStyle: { color: 'rgba(0,0,0,0)' },
    data: row.neut.map(function (v, i) { return [i, 0.5, v]; }),
    label: { show: true, position: 'inside', formatter: function (p) { return p.value[2]; },
      fontSize: 11, color: TXT, fontFamily: FONT } });
}

function doubleArrow(x1, x2, y) {
  const hl = 7, hh = 4.5, sh = 1.8;
  graphic.push({ type: 'polygon', silent: true, z: 50,
    shape: { points: [[x1, y], [x1 + hl, y - hh], [x1 + hl, y - sh], [x2 - hl, y - sh], [x2 - hl, y - hh], [x2, y],
      [x2 - hl, y + hh], [x2 - hl, y + sh], [x1 + hl, y + sh], [x1 + hl, y + hh]] },
    style: { fill: '#e6edf6', stroke: '#4a78ad', lineWidth: 1.2 } });
}

rows.forEach(function (row, ri) {
  gText(panelTitles[ri], row.title[0], row.title[1], 18, { align: 'left' });
  gText('% cell count\n(normalized to mode)', row.cellLbl[0], row.cellLbl[1], 14, { rot: Math.PI / 2, lh: 17 });
  row.hist.panels.forEach(function (p, pi) {
    addHist(row.hist.t, row.hist.b, p[0], p[1], p[2], row.curves[pi]);
  });
  addBar(row, ri === 0);
  addTable(row);
  gText('Mean fluorescence\nper cell', row.mfLbl[0], row.mfLbl[1], 11, { rot: Math.PI / 2, lh: 13 });
  gText('Neutn titers\n(IC50s)', row.ntLbl[0], row.ntLbl[1], 11, { rot: Math.PI / 2, lh: 13 });
  row.arrows.forEach(function (a) { doubleArrow(a[0], a[1], row.arrowY); });
});

// legends (row E)
legendPos.forEach(function (L, pi) {
  [0, 1].forEach(function (j) {
    const y = L[3 + j];
    const c1 = CURVE_COLORS[j * 2], c2 = CURVE_COLORS[j * 2 + 1];
    graphic.push({ type: 'line', silent: true, z: 60, shape: { x1: L[0], y1: y - 2, x2: L[1], y2: y - 2 }, style: { stroke: c1, lineWidth: 1.5 } });
    graphic.push({ type: 'line', silent: true, z: 60, shape: { x1: L[0], y1: y + 2, x2: L[1], y2: y + 2 }, style: { stroke: c2, lineWidth: 1.5 } });
    gText(legendNames[pi][j], L[2], y, 9.5, { align: 'left' });
  });
});

gText('Fluorescence (FITC)', 270, 905, 15);

const chart = echarts.init(document.getElementById('c'), null, { renderer: 'canvas', width: 760, height: 914 });
chart.setOption({ animation: false, backgroundColor: '#fff', grid: grid, xAxis: xAxis, yAxis: yAxis, series: series, graphic: graphic });
</script></body></html>
